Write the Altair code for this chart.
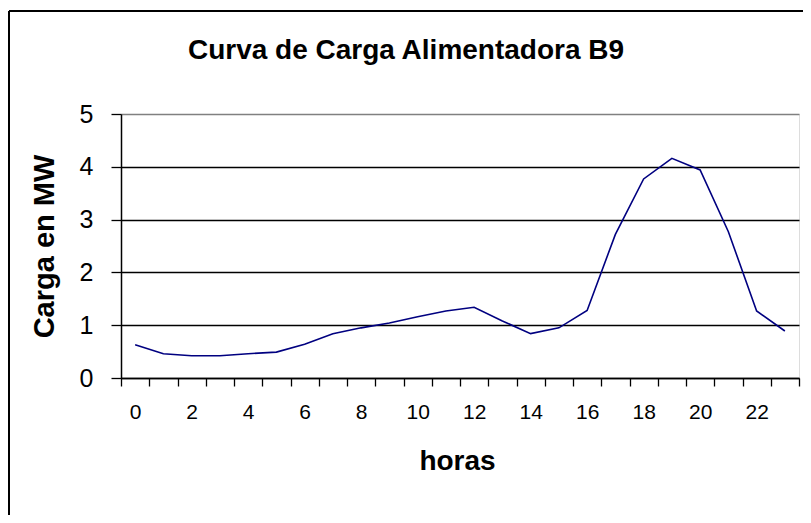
import altair as alt
import pandas as pd

hours = list(range(24))
load_mw = [0.63, 0.46, 0.42, 0.42, 0.46, 0.49, 0.64, 0.84, 0.95, 1.04, 1.16, 1.27,
           1.34, 1.08, 0.84, 0.95, 1.28, 2.72, 3.77, 4.16, 3.94, 2.77, 1.27, 0.89]
y_ticks = [0, 1, 2, 3, 4, 5]
chart_title = "Curva de Carga Alimentadora B9"

df = pd.DataFrame({"hora": hours, "carga": load_mw})
one = alt.Data(values=[{"k": 1}])

FONT = "Liberation Sans"

line = alt.Chart(df).mark_line(color="#000080", strokeWidth=1.6).encode(
    x=alt.X(
        "hora:O",
        bandPosition=0.5,
        scale=alt.Scale(type="band", paddingInner=0, paddingOuter=0),
        sort=hours,
        axis=alt.Axis(
            title="horas",
            labelAngle=0,
            tickBand="extent",
            tickSize=8,
            tickColor="black",
            tickWidth=1.3,
            domainColor="black",
            domainWidth=1.5,
            labelExpr="datum.value % 2 == 0 ? datum.label : ''",
            labelFont=FONT,
            labelFontSize=21,
            labelColor="black",
            labelPadding=15,
            grid=False,
            titleFont=FONT,
            titleFontSize=28,
            titleFontWeight="bold",
            titleColor="black",
            titleX=336,
            titleY=91,
            titleBaseline="alphabetic",
            titleAlign="center",
        ),
    ),
    y=alt.Y(
        "carga:Q",
        scale=alt.Scale(domain=[0, 5], nice=False, zero=True),
        axis=alt.Axis(
            title="Carga en MW",
            values=y_ticks,
            tickSize=10,
            tickColor="black",
            tickWidth=1.3,
            domainColor="black",
            domainWidth=1.5,
            grid=True,
            gridColor={"condition": {"test": "datum.value == 5", "value": "#808080"}, "value": "black"},
            gridWidth=1.3,
            labelFont=FONT,
            labelFontSize=25,
            labelColor="black",
            labelPadding=18,
            titleFont=FONT,
            titleFontSize=29,
            titleFontWeight="bold",
            titleColor="black",
            titleAngle=-90,
            titleX=-77,
            titleY=132,
            titleBaseline="middle",
            titleAlign="center",
        ),
    ),
)

title_text = alt.Chart(one).mark_text(
    font=FONT, fontSize=28, fontWeight="bold", color="black",
    align="center", baseline="alphabetic"
).encode(x=alt.value(285), y=alt.value(-55), text=alt.value(chart_title))

border_left = alt.Chart(one).mark_rule(color="black", strokeWidth=2).encode(
    x=alt.value(-112), y=alt.value(-103), y2=alt.value(420)
)
border_top = alt.Chart(one).mark_rule(color="black", strokeWidth=2).encode(
    x=alt.value(-112), x2=alt.value(720), y=alt.value(-103)
)

chart = alt.layer(border_left, border_top, title_text, line).properties(
    width=678,
    height=264,
    padding={"left": 113, "top": 106, "right": 4, "bottom": 137},
    autosize=alt.AutoSizeParams(type="none"),
).configure_view(
    stroke="#808080", strokeWidth=2
).configure(background="white")

chart.save("out.html", embed_options={"renderer": "svg", "actions": False})
